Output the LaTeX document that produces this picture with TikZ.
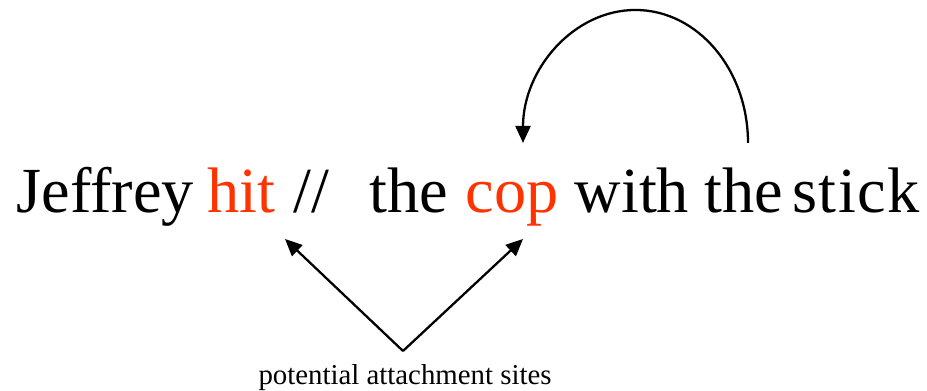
\documentclass[tikz,border=0pt]{standalone}
\usepackage{fontspec}
\setmainfont{Liberation Serif}
\usetikzlibrary{positioning,calc,arrows.meta}
\definecolor{hred}{HTML}{FF3300}

\begin{document}
\begin{tikzpicture}[
    word/.style={anchor=base west,inner sep=0pt,font=\fontsize{18.3pt}{20pt}\selectfont},
    pointer/.style={line width=0.65pt,-{Triangle[length=0.17cm,width=0.15cm]}}]
  \useasboundingbox (0,0) rectangle (9.27,3.91);
  % the sentence
  \node[word] (jeffrey) at (0.16,1.78) {Jeffrey};
  \node[word,hred] (hit) at (2.07,1.78) {hit};
  \node[word] (slash) at (2.93,1.78) {//};
  \node[word] (the1) at (3.69,1.78) {the};
  \node[word,hred] (cop) at (4.65,1.78) {cop};
  \node[word] (with) at (5.74,1.78) {with};
  \node[word] (the2) at (7.04,1.78) {the};
  \node[word] (stick) at (7.92,1.78) {\addfontfeature{LetterSpace=2}stick};
  \node[font=\fontsize{8.2pt}{10pt}\selectfont] (sites) at (4.05,0.13) {potential attachment sites};
  \coordinate (fork) at (4.03,0.40);
  \coordinate (hitpt) at (2.85,1.52);
  \coordinate (coppt) at (5.23,1.52);
  \coordinate (loopst) at ($(the2.base west)+(0.44,0.70)$);
  \draw[pointer] (fork) -- (hitpt);
  \draw[pointer] (fork) -- (coppt);
  \draw[pointer] (loopst) arc[start angle=0,end angle=180,x radius=1.125,y radius=1.33];
\end{tikzpicture}
\end{document}
